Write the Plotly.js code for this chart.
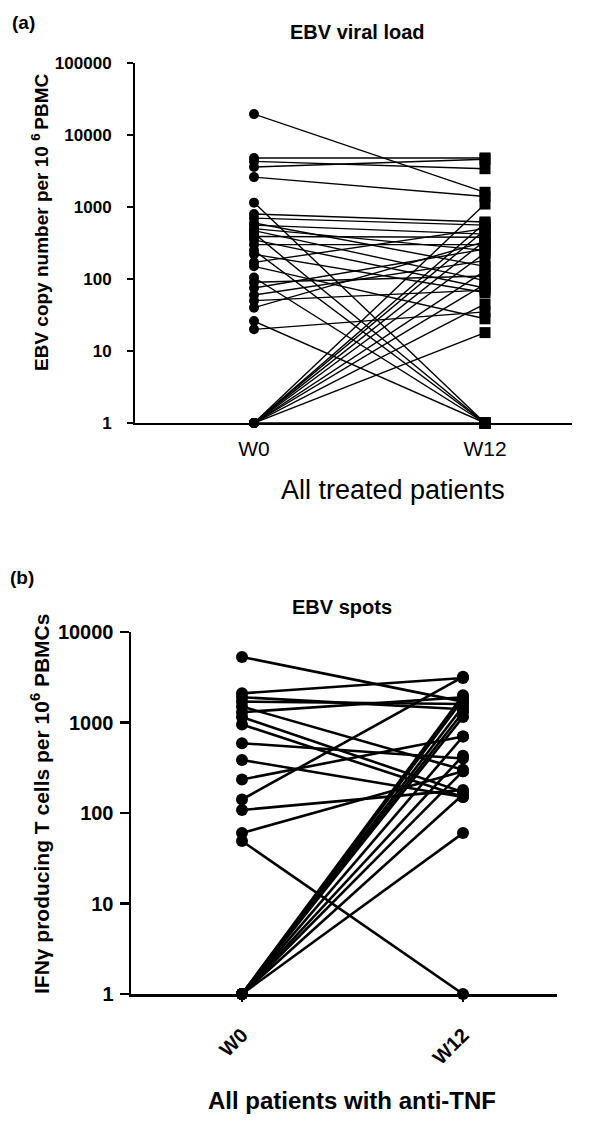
<!DOCTYPE html>
<html>
<head>
<meta charset="utf-8">
<script src="https://cdn.plot.ly/plotly-3.0.1.min.js"></script>
<style>html,body{margin:0;padding:0;background:#fff;}#chart{width:600px;height:1122px;}</style>
</head>
<body>
<div id="chart"></div>
<script>
// ---------- data ----------
const timepoints = ["W0", "W12"];

// Panel (a): EBV viral load (copies per 10^6 PBMC), paired W0 -> W12
const viralW0  = [19500, 4800, 4300, 3600, 2600, 1150, 800, 700, 600, 560, 500, 470, 430, 390, 350, 300, 250, 220, 170, 150, 105, 90, 75, 60, 50, 40, 26, 20, 1, 1, 1, 1, 1, 1, 1, 1, 1, 1];
const viralW12 = [1600, 4800, 3400, 4600, 1400, 1, 620, 560, 150, 420, 250, 95, 1, 380, 75, 300, 1, 65, 500, 28, 1, 110, 260, 180, 70, 330, 1, 35, 1100, 600, 480, 340, 230, 130, 85, 45, 18, 1];

// Panel (b): EBV spots (IFNγ producing T cells per 10^6 PBMCs), paired W0 -> W12
const spotsW0  = [5300, 2100, 1900, 1700, 1500, 1300, 1150, 950, 590, 385, 235, 141, 108, 60, 49, 1, 1, 1, 1, 1, 1, 1, 1, 1, 1];
const spotsW12 = [1700, 3100, 1400, 1600, 300, 1900, 170, 150, 400, 150, 700, 3200, 180, 290, 1, 2000, 1800, 1500, 1300, 1150, 700, 430, 290, 160, 60];

const tickValsA = [1, 10, 100, 1000, 10000, 100000];
const tickTextA = ["1", "10", "100", "1000", "10000", "100000"];
const tickValsB = [1, 10, 100, 1000, 10000];
const tickTextB = ["1", "10", "100", "1000", "10000"];

// ---------- helpers ----------
function pairLines(a, b) {
  const xs = [], ys = [];
  for (let i = 0; i < a.length; i++) {
    xs.push(0, 1, null);
    ys.push(a[i], b[i], null);
  }
  return {xs, ys};
}
const W = 600, H = 1122;
const px = v => v / W;
const py = v => 1 - v / H;

const la = pairLines(viralW0, viralW12);
const lb = pairLines(spotsW0, spotsW12);

const traces = [
  {x: la.xs, y: la.ys, xaxis: 'x', yaxis: 'y', mode: 'lines', line: {color: '#000', width: 1.4}, cliponaxis: false, hoverinfo: 'skip'},
  {x: viralW0.map(() => 0), y: viralW0, xaxis: 'x', yaxis: 'y', mode: 'markers', marker: {symbol: 'circle', size: 10, color: '#000'}, cliponaxis: false},
  {x: viralW12.map(() => 1), y: viralW12, xaxis: 'x', yaxis: 'y', mode: 'markers', marker: {symbol: 'square', size: 11, color: '#000'}, cliponaxis: false},
  {x: lb.xs, y: lb.ys, xaxis: 'x2', yaxis: 'y2', mode: 'lines', line: {color: '#000', width: 2.6}, cliponaxis: false, hoverinfo: 'skip'},
  {x: spotsW0.map(() => 0), y: spotsW0, xaxis: 'x2', yaxis: 'y2', mode: 'markers', marker: {symbol: 'circle', size: 12, color: '#000'}, cliponaxis: false},
  {x: spotsW12.map(() => 1), y: spotsW12, xaxis: 'x2', yaxis: 'y2', mode: 'markers', marker: {symbol: 'circle', size: 12, color: '#000'}, cliponaxis: false}
];

const FONT = 'Liberation Sans, Arial, sans-serif';

const layout = {
  width: W, height: H,
  margin: {l: 0, r: 0, t: 0, b: 0},
  paper_bgcolor: '#fff', plot_bgcolor: '#fff',
  showlegend: false,
  font: {family: FONT, color: '#000'},
  xaxis: {
    domain: [px(135), px(572)], anchor: 'y',
    range: [-(254 - 135) / 231, (572 - 254) / 231],
    tickvals: [0, 1], ticktext: timepoints,
    ticks: '', showline: true, linecolor: '#000', linewidth: 2,
    showgrid: false, zeroline: false,
    tickfont: {family: FONT, size: 21, color: '#000'},
    ticklabelstandoff: 6
  },
  yaxis: {
    domain: [py(423), py(63)], anchor: 'x',
    type: 'log', range: [0, 5],
    tickvals: tickValsA, ticktext: tickTextA,
    ticks: 'outside', ticklen: 6, tickwidth: 2, tickcolor: '#000',
    showline: true, linecolor: '#000', linewidth: 2,
    showgrid: false, zeroline: false,
    tickfont: {family: FONT, size: 17, color: '#000', weight: 'bold'},
    ticklabelstandoff: 12
  },
  xaxis2: {
    domain: [px(131), px(557)], anchor: 'y2',
    range: [-(242 - 131) / 221, (557 - 242) / 221],
    tickvals: [0, 1], ticktext: timepoints,
    ticks: 'outside', ticklen: 5, tickwidth: 2, tickcolor: '#000',
    tickangle: -45,
    showline: true, linecolor: '#000', linewidth: 2.5,
    showgrid: false, zeroline: false,
    tickfont: {family: FONT, size: 20, color: '#000', weight: 'bold'},
    ticklabelstandoff: 14
  },
  yaxis2: {
    domain: [py(994), py(632)], anchor: 'x2',
    type: 'log', range: [0, 4],
    tickvals: tickValsB, ticktext: tickTextB,
    ticks: 'outside', ticklen: 9, tickwidth: 2.5, tickcolor: '#000',
    showline: true, linecolor: '#000', linewidth: 2.5,
    showgrid: false, zeroline: false,
    tickfont: {family: FONT, size: 20, color: '#000', weight: 'bold'},
    ticklabelstandoff: 2
  },
  annotations: [
    {text: '(a)', x: px(23), y: py(22), xref: 'paper', yref: 'paper', showarrow: false, xanchor: 'center', yanchor: 'middle', font: {family: FONT, size: 19, weight: 'bold'}},
    {text: 'EBV viral load', x: px(357), y: py(32), xref: 'paper', yref: 'paper', showarrow: false, xanchor: 'center', yanchor: 'middle', font: {family: FONT, size: 20, weight: 'bold'}},
    {text: 'EBV copy number per 10 <sup>6 </sup>PBMC', x: px(40), y: py(222), xref: 'paper', yref: 'paper', showarrow: false, textangle: -90, xanchor: 'center', yanchor: 'middle', font: {family: FONT, size: 19, weight: 'bold'}},
    {text: 'All treated patients', x: px(393), y: py(490), xref: 'paper', yref: 'paper', showarrow: false, xanchor: 'center', yanchor: 'middle', font: {family: FONT, size: 27}},
    {text: '(b)', x: px(22), y: py(577), xref: 'paper', yref: 'paper', showarrow: false, xanchor: 'center', yanchor: 'middle', font: {family: FONT, size: 19, weight: 'bold'}},
    {text: 'EBV spots', x: px(342), y: py(607), xref: 'paper', yref: 'paper', showarrow: false, xanchor: 'center', yanchor: 'middle', font: {family: FONT, size: 20, weight: 'bold'}},
    {text: 'IFNγ producing T cells per 10<sup>6</sup> PBMCs', x: px(40), y: py(804), xref: 'paper', yref: 'paper', showarrow: false, textangle: -90, xanchor: 'center', yanchor: 'middle', font: {family: FONT, size: 21, weight: 'bold'}},
    {text: 'All patients with anti-TNF', x: px(352), y: py(1100), xref: 'paper', yref: 'paper', showarrow: false, xanchor: 'center', yanchor: 'middle', font: {family: FONT, size: 24, weight: 'bold'}}
  ]
};

Plotly.newPlot('chart', traces, layout, {staticPlot: true, displayModeBar: false});
</script>
</body>
</html>
